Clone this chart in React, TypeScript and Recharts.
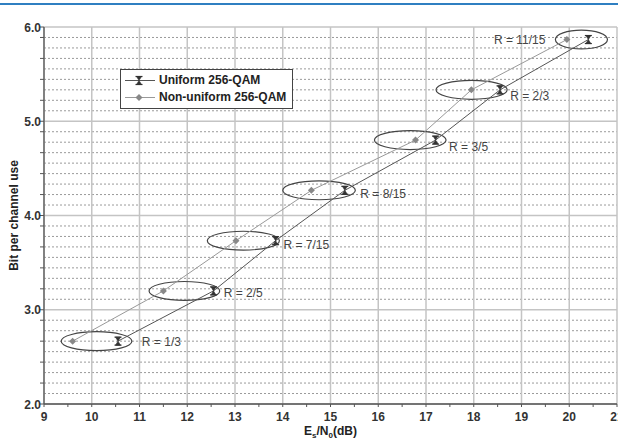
import { LineChart, Line, XAxis, YAxis, CartesianGrid, ReferenceArea, Legend } from 'recharts';

// Es/N0 (dB) needed by each constellation at each code rate
const snrUniform = [10.55, 12.55, 13.85, 15.3, 17.2, 18.55, 20.4];
const snrNonUniform = [9.6, 11.5, 13.02, 14.6, 16.78, 17.95, 19.95];
// spectral efficiency: 8 bits x code rate
const bitsPerUse = [2.667, 3.2, 3.733, 4.267, 4.8, 5.333, 5.867];
const rateLabels = ['1/3', '2/5', '7/15', '8/15', '3/5', '2/3', '11/15'];
// extent along Es/N0 of the ellipse grouping each rate pair
const groupFrom = [9.36, 11.2, 12.42, 14.0, 15.92, 17.21, 19.71];
const groupTo = [10.84, 12.68, 13.93, 15.52, 17.42, 18.7, 20.8];

const xTicks = [9, 10, 11, 12, 13, 14, 15, 16, 17, 18, 19, 20, 21];
const yTicks = [2, 3, 4, 5, 6];

const uniformData = snrUniform.map((snr, i) => ({ snr, bits: bitsPerUse[i] }));
const nonUniformData = snrNonUniform.map((snr, i) => ({ snr, bits: bitsPerUse[i] }));

// 8 dotted lines between major rows, every other one gets an axis tick
const minorY: number[] = [];
const minorYTicks: number[] = [];
yTicks.slice(0, -1).forEach((v) => {
  for (let j = 1; j < 9; j++) {
    minorY.push(v + j / 9);
    if (j % 2 === 0) minorYTicks.push(v + j / 9);
  }
});
const minorXTicks = xTicks.slice(0, -1).map((v) => v + 0.5);

const FONT = '"Liberation Sans", Arial, sans-serif';
const AXIS = '#555';

// label placement next to each ellipse: [dx, dy]; negative dx puts it on the left
const LABEL_SHIFT = [[10, 0], [4, 2], [4, 4], [5, 3], [3, 6], [3, 6], [-10, 0]];

const Hourglass = ({ cx, cy, color = '#333' }: any) => (
  <g stroke={color} strokeWidth={1.2} fill={color}>
    <line x1={cx - 3.5} x2={cx + 3.5} y1={cy - 4} y2={cy - 4} />
    <line x1={cx - 3.5} x2={cx + 3.5} y1={cy + 4} y2={cy + 4} />
    <path d={`M${cx - 2.5},${cy - 4} L${cx + 2.5},${cy - 4} L${cx},${cy} Z M${cx - 2.5},${cy + 4} L${cx + 2.5},${cy + 4} L${cx},${cy} Z`} strokeWidth={0.6} />
  </g>
);

const Diamond = ({ cx, cy, color = '#888' }: any) => (
  <path d={`M${cx},${cy - 3.5} L${cx + 3.5},${cy} L${cx},${cy + 3.5} L${cx - 3.5},${cy} Z`} fill={color} />
);

const YTick = ({ x, y, payload }: any) => {
  const v = payload.value;
  const major = yTicks.includes(v);
  return (
    <g>
      <line x1={x - 4} x2={x} y1={y} y2={y} stroke={AXIS} strokeWidth={1} />
      {major && (
        <text x={x - 3} y={y} dy={4.5} textAnchor="end" fontFamily={FONT} fontWeight="bold" fontSize={12} fill="#333">
          {v.toFixed(1)}
        </text>
      )}
    </g>
  );
};

const XTick = ({ x, y, payload }: any) => {
  const v = payload.value;
  const major = xTicks.includes(v);
  return (
    <g>
      <line x1={x} x2={x} y1={y} y2={y + 3} stroke={AXIS} strokeWidth={1} />
      {major && (
        <text x={x} y={y + 17} textAnchor="middle" fontFamily={FONT} fontWeight="bold" fontSize={12} fill="#333">
          {v}
        </text>
      )}
    </g>
  );
};

const XTitle = ({ viewBox }: any) => (
  <text x={viewBox.x + viewBox.width / 2} y={viewBox.y + 31} textAnchor="middle" fontFamily={FONT} fontWeight="bold" fontSize={12} fill="#222">
    <tspan>E</tspan>
    <tspan dy={3} fontSize={8}>s</tspan>
    <tspan dy={-3}>/N</tspan>
    <tspan dy={3} fontSize={8}>0</tspan>
    <tspan dy={-3}>(dB)</tspan>
  </text>
);

const YTitle = ({ viewBox }: any) => {
  const cx = 18;
  const cy = viewBox.y + viewBox.height / 2;
  return (
    <text x={cx} y={cy} transform={`rotate(-90, ${cx}, ${cy})`} textAnchor="middle" fontFamily={FONT} fontWeight="bold" fontSize={12} fill="#222">
      Bit per channel use
    </text>
  );
};

const LegendBox = () => (
  <div
    style={{
      border: '1px solid #444',
      background: '#fff',
      padding: '2px 6px 2px 3px',
      fontFamily: FONT,
      fontWeight: 'bold',
      fontSize: 12,
      color: '#222',
      lineHeight: '17px',
      whiteSpace: 'nowrap',
    }}
  >
    {[
      { name: 'Uniform 256-QAM', line: '#555', mark: 'hourglass' },
      { name: 'Non-uniform 256-QAM', line: '#999', mark: 'diamond' },
    ].map((item) => (
      <div key={item.name} style={{ display: 'flex', alignItems: 'center' }}>
        <svg width={32} height={17} style={{ marginRight: 3 }}>
          <line x1={1} x2={31} y1={8.5} y2={8.5} stroke={item.line} strokeWidth={1} />
          {item.mark === 'hourglass' ? <Hourglass cx={15} cy={8.5} /> : <Diamond cx={15} cy={8.5} />}
        </svg>
        <span>{item.name}</span>
      </div>
    ))}
  </div>
);

const rateEllipse = (i: number) => (props: any) => {
  const { x, y, width, height } = props;
  const [dx, dy] = LABEL_SHIFT[i];
  const left = dx < 0;
  return (
    <g>
      <ellipse cx={x + width / 2} cy={y + height / 2} rx={width / 2} ry={height / 2} fill="none" stroke="#444" strokeWidth={1.2} />
      <text
        x={left ? x + dx : x + width + dx}
        y={y + height / 2 + dy}
        dy={4.5}
        textAnchor={left ? 'end' : 'start'}
        fontFamily={FONT}
        fontSize={12}
        fill="#444"
      >
        {`R = ${rateLabels[i]}`}
      </text>
    </g>
  );
};

export default function App() {
  return (
    <div style={{ position: 'absolute', left: 0, top: 0, width: 618, height: 439, overflow: 'hidden', background: '#fff' }}>
      <div style={{ position: 'absolute', left: 0, top: 3, width: 618, height: 2, background: '#2f7fc1' }} />
      <LineChart width={640} height={439} margin={{ top: 27, right: 23, bottom: 0, left: 0 }}>
        <CartesianGrid horizontalValues={minorY} vertical={false} stroke="#9a9a9a" strokeDasharray="2 2" strokeWidth={1} />
        <CartesianGrid horizontalValues={yTicks} verticalValues={xTicks} stroke="#c4c4c4" strokeWidth={1.5} />
        <XAxis
          type="number"
          dataKey="snr"
          domain={[9, 21]}
          ticks={[...xTicks, ...minorXTicks].sort((a, b) => a - b)}
          interval={0}
          allowDataOverflow
          height={35}
          tickSize={0}
          tickMargin={0}
          tick={<XTick />}
          axisLine={{ stroke: AXIS, strokeWidth: 1.3 }}
          label={{ content: XTitle }}
        />
        <YAxis
          type="number"
          dataKey="bits"
          domain={[2, 6]}
          ticks={[...yTicks, ...minorYTicks].sort((a, b) => a - b)}
          interval={0}
          width={44}
          tickSize={0}
          tickMargin={0}
          tick={<YTick />}
          axisLine={{ stroke: AXIS, strokeWidth: 1.3 }}
          label={{ content: YTitle }}
        />
        <Legend
          layout="vertical"
          align="center"
          verticalAlign="middle"
          content={<LegendBox />}
          wrapperStyle={{ left: 120, top: 69, width: 'auto', height: 'auto' }}
        />
        {rateLabels.map((r, i) => (
          <ReferenceArea
            key={r}
            x1={groupFrom[i]}
            x2={groupTo[i]}
            y1={bitsPerUse[i] - 0.1}
            y2={bitsPerUse[i] + 0.1}
            shape={rateEllipse(i)}
          />
        ))}
        <Line
          data={nonUniformData}
          dataKey="bits"
          name="Non-uniform 256-QAM"
          stroke="#999"
          strokeWidth={1}
          dot={(p: any) => <Diamond key={p.index} cx={p.cx} cy={p.cy} />}
          isAnimationActive={false}
        />
        <Line
          data={uniformData}
          dataKey="bits"
          name="Uniform 256-QAM"
          stroke="#555"
          strokeWidth={1}
          dot={(p: any) => <Hourglass key={p.index} cx={p.cx} cy={p.cy} />}
          isAnimationActive={false}
        />
      </LineChart>
    </div>
  );
}
